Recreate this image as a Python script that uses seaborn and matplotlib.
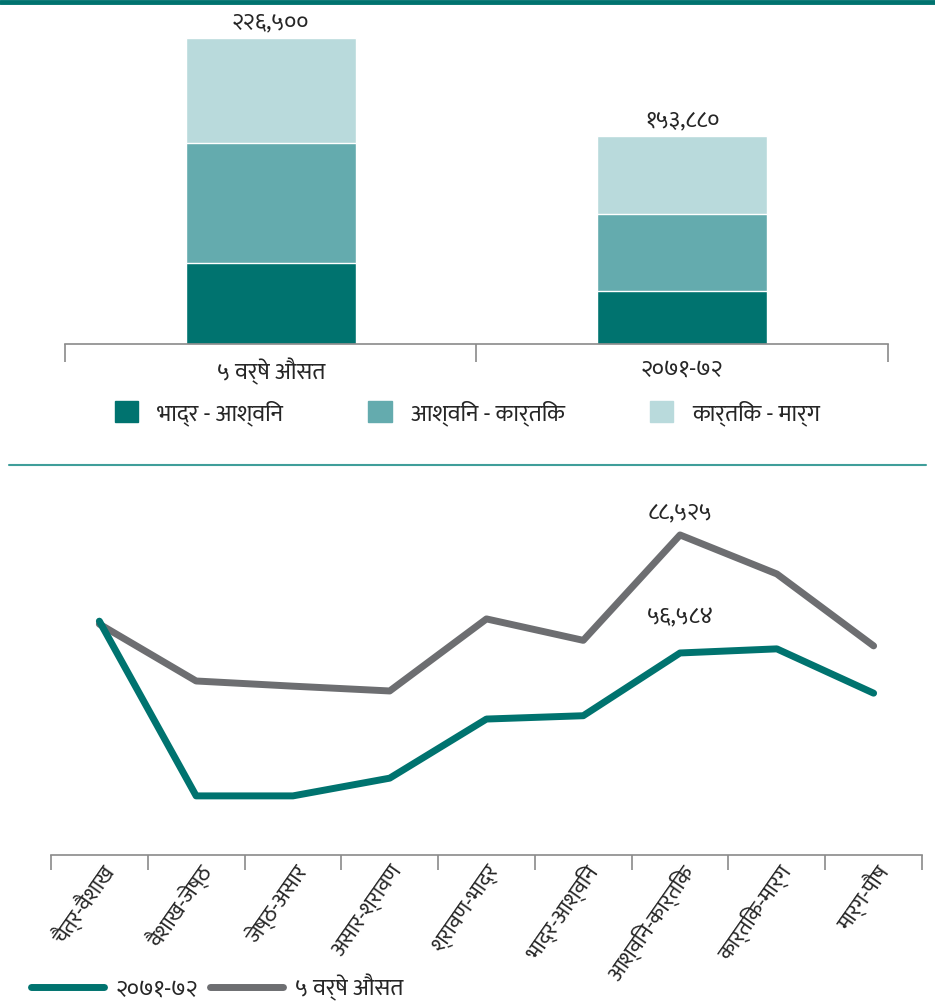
import matplotlib
matplotlib.use("Agg")
import matplotlib.pyplot as plt
import numpy as np
import pandas as pd
import seaborn as sns
from matplotlib import font_manager
from matplotlib.lines import Line2D
from matplotlib.patches import Patch

# data
bar_cats = ["५ वर्षे औसत", "२०७१-७२"]
seg_names = ["भाद्र - आश्विन", "आश्विन - कार्तिक", "कार्तिक - मार्ग"]
seg_bhadra = [60000, 39600]
seg_ashwin = [88525, 56584]
seg_kartik = [77975, 57696]
bar_totals = ["२२६,५००", "१५३,८८०"]

months = ["चैत्र-वैशाख", "वैशाख-जेष्ठ", "जेष्ठ-असार", "असार-श्रावण", "श्रावण-भाद्र",
          "भाद्र-आश्विन", "आश्विन-कार्तिक", "कार्तिक-मार्ग", "मार्ग-पौष"]
line_2071 = [65200, 17900, 17900, 22700, 38700, 39600, 56584, 57696, 45700]
line_avg5 = [64400, 49000, 47600, 46300, 65800, 60000, 88525, 77975, 58500]
line_names = ["२०७१-७२", "५ वर्षे औसत"]

# a devanagari font, if one is installed
names = {f.name for f in font_manager.fontManager.ttflist}
deva = next((n for n in ["Ek Mukta", "Karma", "FreeSans", "Hind"] if n in names), None)

sns.set_style("white")
plt.rcParams["font.family"] = [deva, "DejaVu Sans"] if deva else ["DejaVu Sans"]

dark, mid, light = "#00736f", "#64abae", "#b9dadc"
grey = "#6d6e71"
axis_c = "#8a8a8a"

fig = plt.figure(figsize=(9.35, 10.02), dpi=100)

# top: stacked bars
ax1 = fig.add_axes([0.0695, 0.6567, 0.8802, 0.3234])
df = pd.DataFrame({"cat": bar_cats, "a": seg_bhadra, "b": seg_ashwin, "c": seg_kartik})
df["ab"] = df["a"] + df["b"]
df["abc"] = df["ab"] + df["c"]
for col, c in [("abc", light), ("ab", mid), ("a", dark)]:
    sns.barplot(data=df, x="cat", y=col, color=c, width=0.413, saturation=1, ax=ax1)
ax1.set_xlim(-0.5, 1.5)
ax1.set_ylim(0, 240000)
for i, t in enumerate(bar_totals):
    ax1.annotate(t, (i, df["abc"][i]), xytext=(0, 3), textcoords="offset points",
                 ha="center", va="bottom", fontsize=17)
ax1.set_xlabel("")
ax1.set_ylabel("")
ax1.set_yticks([])
ax1.set_xticks([0, 1])
ax1.set_xticklabels(bar_cats, fontsize=17)
ax1.set_xticks([-0.5, 0.5, 1.5], minor=True)
ax1.tick_params(axis="x", which="major", length=0, pad=10)
ax1.tick_params(axis="x", which="minor", length=13, width=1.2, color=axis_c, direction="out", bottom=True)
for s in ["top", "left", "right"]:
    ax1.spines[s].set_visible(False)
ax1.spines["bottom"].set_color(axis_c)
ax1.spines["bottom"].set_linewidth(1.2)

bar_handles = [Patch(color=c) for c in (dark, mid, light)]
fig.legend(bar_handles, seg_names, loc="center", bbox_to_anchor=(0.5, 1 - 413 / 1002),
           ncol=3, frameon=False, fontsize=17, handlelength=1.0, handleheight=1.0,
           columnspacing=3.6, handletextpad=0.8)

# bottom: lines
ax2 = fig.add_axes([0.0545, 0.1467, 0.9316, 0.3643])
ldf = pd.DataFrame({"month": months, "l2071": line_2071, "avg5": line_avg5})
sns.lineplot(data=ldf, x="month", y="avg5", color=grey, linewidth=5, sort=False, ax=ax2)
sns.lineplot(data=ldf, x="month", y="l2071", color=dark, linewidth=5, sort=False, ax=ax2)
ax2.set_xlim(-0.5, 8.5)
ax2.set_ylim(1900, 100700)
ax2.annotate("८८,५२५", (6, line_avg5[6]), xytext=(0, 8), textcoords="offset points",
             ha="center", va="bottom", fontsize=17)
ax2.annotate("५६,५८४", (6, line_2071[6]), xytext=(0, 17), textcoords="offset points",
             ha="center", va="bottom", fontsize=17)
ax2.set_xlabel("")
ax2.set_ylabel("")
ax2.set_yticks([])
ax2.set_xticks(range(len(months)))
ax2.set_xticklabels(months, rotation=55, ha="right", rotation_mode="anchor", fontsize=16)
ax2.set_xticks(np.arange(-0.5, 9, 1), minor=True)
ax2.tick_params(axis="x", which="major", length=0, pad=4)
ax2.tick_params(axis="x", which="minor", length=11, width=1.2, color=axis_c, direction="out", bottom=True)
for s in ["top", "left", "right"]:
    ax2.spines[s].set_visible(False)
ax2.spines["bottom"].set_color(axis_c)
ax2.spines["bottom"].set_linewidth(1.2)

line_handles = [Line2D([], [], color=dark, lw=5), Line2D([], [], color=grey, lw=5)]
fig.legend(line_handles, line_names, loc="center left", bbox_to_anchor=(0.01, 1 - 988 / 1002),
           ncol=2, frameon=False, fontsize=17, handlelength=3.1, handletextpad=0.5,
           columnspacing=0.5)

# separator rules
fig.add_artist(Line2D([0, 1], [1 - 2 / 1002, 1 - 2 / 1002], transform=fig.transFigure,
                      color=dark, lw=3.5))
fig.add_artist(Line2D([0.01, 0.99], [1 - 465 / 1002, 1 - 465 / 1002], transform=fig.transFigure,
                      color="#3f9e9a", lw=1.5))

fig.savefig("out.png", dpi=100)
